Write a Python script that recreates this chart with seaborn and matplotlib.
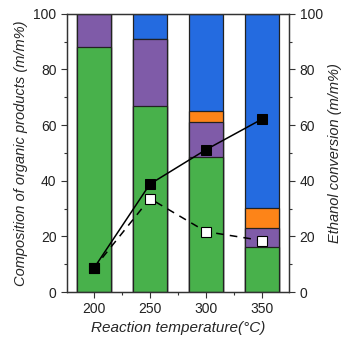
import numpy as np
import pandas as pd
import matplotlib
matplotlib.use("Agg")
import matplotlib.pyplot as plt
import seaborn as sns
from matplotlib.ticker import MultipleLocator

temps = [200, 250, 300, 350]
green = [88.0, 67.0, 48.6, 16.3]
purple = [12.0, 24.0, 12.7, 6.8]
orange = [0.0, 0.0, 3.9, 7.0]
blue = [0.0, 9.0, 34.8, 69.9]
conv_solid = [8.5, 38.8, 51.2, 62.2]
conv_dashed = [8.5, 33.6, 21.7, 18.5]

sns.set_style("ticks")
plt.rcParams["font.family"] = ["Liberation Sans", "DejaVu Sans"]
plt.rcParams["font.size"] = 10
plt.rcParams["text.color"] = "#222222"
plt.rcParams["xtick.color"] = "#333333"
plt.rcParams["ytick.color"] = "#333333"
plt.rcParams["xtick.labelcolor"] = "#222222"
plt.rcParams["ytick.labelcolor"] = "#222222"

fig = plt.figure(figsize=(3.41, 3.38), dpi=100)
ax = fig.add_axes([0.196, 0.136, 0.652, 0.823])

# stacked bars drawn as overlapping cumulative totals, top layer first
layers = [
    (np.array(green) + purple + orange + blue, "#246be0"),
    (np.array(green) + purple + orange, "#fd8418"),
    (np.array(green) + purple, "#7f5ba8"),
    (np.array(green), "#48b14b"),
]
for vals, col in layers:
    df = pd.DataFrame({"T": temps, "v": vals})
    sns.barplot(data=df, x="T", y="v", native_scale=True, width=0.6,
                color=col, saturation=1, edgecolor="#222222", linewidth=0.9, ax=ax)

ax.set_xlim(176, 374)
ax.set_ylim(0, 100)
ax.set_xticks(temps)
ax.xaxis.set_minor_locator(MultipleLocator(25))
ax.yaxis.set_major_locator(MultipleLocator(20))
ax.yaxis.set_minor_locator(MultipleLocator(10))
ax.set_xlabel("Reaction temperature(°C)", style="italic", fontsize=11, labelpad=3)
ax.set_ylabel("Composition of organic products (m/m%)", style="italic", fontsize=10.5)

ax2 = ax.twinx()
ax2.set_ylim(0, 100)
ax2.yaxis.set_major_locator(MultipleLocator(20))
ax2.yaxis.set_minor_locator(MultipleLocator(10))
dl = pd.DataFrame({"T": temps, "a": conv_solid, "b": conv_dashed})
sns.lineplot(data=dl, x="T", y="b", ax=ax2, color="black", linestyle=(0, (5, 4)),
             linewidth=1.1, marker="s", markersize=6.5, markerfacecolor="white",
             markeredgecolor="black", markeredgewidth=0.8)
sns.lineplot(data=dl, x="T", y="a", ax=ax2, color="black", linewidth=1.1,
             marker="s", markersize=6.5, markerfacecolor="black", markeredgecolor="black")
ax2.set_ylabel("Ethanol conversion (m/m%)", style="italic", fontsize=10.5)
ax2.set_xlim(176, 374)

for a in (ax, ax2):
    for s in a.spines.values():
        s.set_color("#333333")
        s.set_linewidth(0.9)
    a.tick_params(which="major", length=4, width=0.8, labelsize=10)
    a.tick_params(which="minor", length=2.5, width=0.8)

fig.savefig("out.png", dpi=100)
